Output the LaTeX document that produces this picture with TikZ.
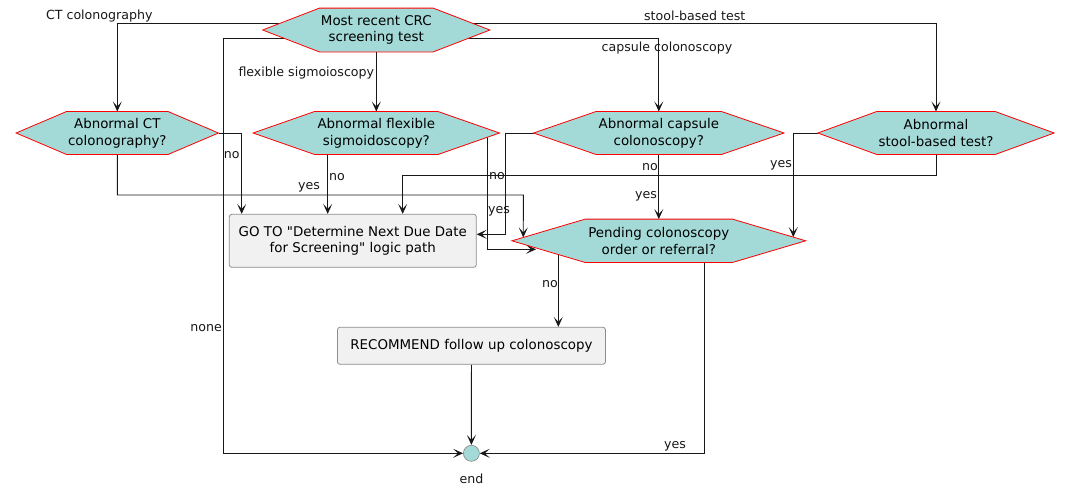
\documentclass[tikz,border=0pt]{standalone}
\usepackage{fontspec}
\setmainfont{DejaVu Sans}[Ligatures=TeXOff]
\usetikzlibrary{arrows.meta,calc}
\pgfdeclarelayer{bg}
\pgfdeclarelayer{edges}
\pgfdeclarelayer{hexes}
\pgfsetlayers{bg,edges,hexes,main}
\definecolor{hexfill}{RGB}{163,218,215}
\definecolor{hexline}{RGB}{255,0,0}
\definecolor{boxfill}{RGB}{241,241,241}
\definecolor{boxline}{RGB}{140,140,140}
\definecolor{edgecol}{RGB}{24,24,24}
\newcommand\myNodeFont{\fontsize{13.4}{16.7}\selectfont}
\newcommand\myLabFont{\fontsize{12.6}{15}\selectfont}
\begin{document}
\begin{tikzpicture}[x=1pt,y=-1pt,
  hexnode/.style={inner sep=0pt, minimum height=43.4pt, align=center, font=\myNodeFont},
  hexshape/.style={fill=hexfill, draw=hexline, line width=0.8pt, line join=miter},
  boxnode/.style={inner sep=0pt, align=center, font=\myNodeFont, fill=boxfill, draw=boxline, line width=0.8pt, rounded corners=2.5pt},
  edge/.style={draw=edgecol, line width=0.9pt, -{Stealth[length=10pt,width=9pt,inset=5pt]}},
  lab/.style={inner sep=0pt, font=\myLabFont, text=edgecol}
]
\begin{pgfonlayer}{bg}
\fill[white] (0,0) rectangle (1069,491);
\end{pgfonlayer}
\useasboundingbox (0,0) rectangle (1069,491);

% decision nodes (text part)
\node[hexnode, minimum width=113.4pt] (top) at (376.3,30) {Most recent CRC\\screening test};
\node[hexnode, minimum width=101pt, minimum height=42.6pt] (ct) at (117.3,133) {Abnormal CT\\colonography?};
\node[hexnode, minimum width=123pt, minimum height=42.6pt] (flex) at (376.3,133) {Abnormal flexible\\sigmoidoscopy?};
\node[hexnode, minimum width=125pt, minimum height=42.6pt] (caps) at (658.8,133) {Abnormal capsule\\colonoscopy?};
\node[hexnode, minimum width=118pt, minimum height=42.6pt] (stool) at (936,133) {Abnormal\\stool-based test?};
\node[hexnode, minimum width=146.7pt, minimum height=43pt] (pend) at (658.8,240.8) {Pending colonoscopy\\order or referral?};

% action boxes
\node[boxnode, minimum width=247pt, minimum height=53pt] (goto) at (352.8,240.8) {GO TO "Determine Next Due Date\\for Screening" logic path};
\node[boxnode, minimum width=268pt, minimum height=37pt] (rec) at (471.45,345.8) {RECOMMEND follow up colonoscopy};

% end
\node[circle, inner sep=0pt, minimum size=16pt, fill=hexfill, draw=boxline, line width=0.7pt] (endc) at (471.4,453.3) {};
\node[lab] (endl) at (471.4,478.3) {end};

% hexagon outlines
\begin{pgfonlayer}{hexes}
\foreach \h/\t in {top/56.7,ct/50.5,flex/61.5,caps/62.5,stool/59,pend/73.35}{
  \filldraw[hexshape] (\h.north west) -- (\h.north east) -- ([xshift=\t pt]\h.east) coordinate (\h E)
     -- (\h.south east) -- (\h.south west) -- ([xshift=-\t pt]\h.west) coordinate (\h W) -- cycle;
}
\end{pgfonlayer}

\coordinate (p7) at (intersection of pendW--pend.north west and 523.3,200--523.3,260);
\coordinate (p9) at (intersection of pendW--pend.south west and 480,249.3--560,249.3);
\coordinate (p12) at (intersection of pendE--pend.north east and 793.3,200--793.3,260);

% connectors
\begin{pgfonlayer}{edges}
\draw[edge] ([yshift=6.7pt]top.center) -| (ct.north);
\draw[edge] ([yshift=6.7pt]top.center) -| (stool.north);
\draw[edge] ([yshift=-8.3pt]top.center) -| (caps.north);
\draw[edge] ([yshift=-8.3pt]top.center) -| (223.7,0 |- endc.west) -- (endc.west);
\draw[edge] (top.south) -- (flex.north);
\draw[edge] (ctE) -| (241.7,0 |- goto.north);
\draw[edge] (ct.south) |- (523.3,195) -- (p7);
\draw[edge] (327.7,0 |- flex.south) -- (327.7,0 |- goto.north);
\draw[edge] (487.3,0 |- flex.center) |- ([xshift=-4.6pt]p9);
\draw[edge] (capsW) -| (505.7,234.3) -- (goto.east |- 0,234.3);
\draw[edge] (caps.south) -- (pend.north);
\draw[edge] (stoolW) -| (p12);
\draw[edge] (stool.south) |- (402.7,175) -- (402.7,0 |- goto.north);
\draw[edge] (558.3,0 |- pend.center) -- (558.3,0 |- rec.north);
\draw[edge] (704.3,0 |- pend.center) |- (endc.east);
\draw[edge] (rec.south) -- (endc.north);
\end{pgfonlayer}

% connector labels
\node[lab] (l1) at (99.3,15.7) {CT colonography};
\node[lab] (l2) at (694.7,15.7) {stool-based test};
\node[lab] (l3) at (667,47.7) {capsule colonoscopy};
\node[lab, anchor=east] (l4) at (374.3,73.3) {flexible sigmoioscopy};
\node[lab, anchor=east] (l5) at (222,327.7) {none};
\node[lab] (l6) at (231.7,155) {no};
\node[lab] (l7) at (309,187.7) {yes};
\node[lab] (l8) at (337,176.7) {no};
\node[lab] (l9) at (499,211) {yes};
\node[lab] (l10) at (497,176) {no};
\node[lab] (l11) at (650,167.3) {no};
\node[lab] (l12) at (646,196.7) {yes};
\node[lab] (l13) at (781,165.7) {yes};
\node[lab] (l14) at (550,284) {no};
\node[lab] (l15) at (675,446) {yes};
\end{tikzpicture}
\end{document}
